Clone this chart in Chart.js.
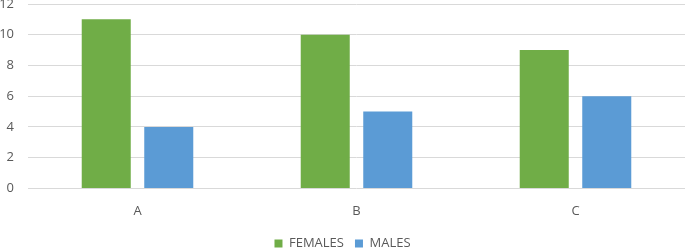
<!DOCTYPE html>
<html>
<head>
<meta charset="utf-8">
<script src="https://cdn.jsdelivr.net/npm/chart.js@4/dist/chart.umd.min.js"></script>
<style>
  html, body { margin: 0; padding: 0; background: #fff; }
  #wrap { width: 685px; height: 249px; }
</style>
</head>
<body>
<div id="wrap"><canvas id="genderChart"></canvas></div>
<script>
var categories = ['A', 'B', 'C'];
var females = [11, 10, 9];
var males = [4, 5, 6];
var yTicks = [0, 2, 4, 6, 8, 10, 12];

var ctx = document.getElementById('genderChart').getContext('2d');
var chart = new Chart(ctx, {
    type: 'bar',
    data: {
        labels: categories,
        datasets: [{
            label: 'FEMALES',
            data: females,
            backgroundColor: '#70ad47'
        }, {
            label: 'MALES',
            data: males,
            backgroundColor: '#5b9bd5'
        }]
    },
    options: {
        responsive: true,
        maintainAspectRatio: false,
        animation: false,
        categoryPercentage: 0.571,
        barPercentage: 0.784,
        layout: {
            padding: { top: 4, right: 0, left: 0, bottom: -11 }
        },
        scales: {
            x: {
                grid: { display: false },
                border: { display: false },
                ticks: {
                    color: '#595959',
                    font: { family: 'Open Sans', size: 13 },
                    padding: 7
                }
            },
            y: {
                min: 0,
                max: 12,
                afterBuildTicks: function(scale) {
                    scale.ticks = yTicks.map(function(v) { return { value: v }; });
                },
                afterFit: function(scale) {
                    scale.width = 28;
                    scale.paddingTop = 0;
                },
                grid: { color: '#d9d9d9', lineWidth: 1, drawTicks: false },
                border: { display: false },
                ticks: {
                    color: '#595959',
                    font: { family: 'Open Sans', size: 13 },
                    padding: 14
                }
            }
        },
        plugins: {
            legend: {
                position: 'bottom',
                labels: {
                    color: '#595959',
                    font: { family: 'Open Sans', size: 13 },
                    boxWidth: 8,
                    boxHeight: 8,
                    padding: 11
                }
            },
            tooltip: { enabled: false }
        }
    }
});
</script>
</body>
</html>
